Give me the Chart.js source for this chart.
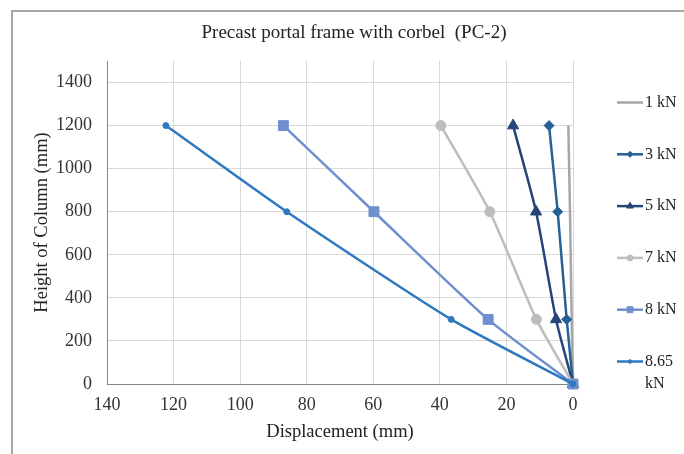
<!DOCTYPE html>
<html>
<head>
<meta charset="utf-8">
<script src="https://cdn.jsdelivr.net/npm/chart.js@4.4.1/dist/chart.umd.min.js"></script>
<style>
html,body{margin:0;padding:0;background:#fff;}
#wrap{position:relative;width:684px;height:454px;}
</style>
</head>
<body>
<div id="wrap"><canvas id="cnvDesplazamiento" width="684" height="454"></canvas></div>
<script>
// cargas aplicadas y lecturas (altura en mm, desplazamiento en mm)
var cargas = ["1 kN", "3 kN", "5 kN", "7 kN", "8 kN", "8.65 kN"];
var alturas = [0, 300, 800, 1200];
var d1kN = [0, 0.4, 0.9, 1.4];
var d3kN = [0, 1.9, 4.6, 7.2];
var d5kN = [0, 5.1, 11.1, 18];
var d7kN = [0, 11, 25, 39.7];
var d8kN = [0, 25.5, 59.8, 87];
var d865kN = [0, 36.6, 86, 122.3];
var ticksX = [0, 20, 40, 60, 80, 100, 120, 140];
var ticksY = [0, 200, 400, 600, 800, 1000, 1200, 1400];

var desplazamientos = [d1kN, d3kN, d5kN, d7kN, d8kN, d865kN];
var colores = ["#A6A6A6", "#266196", "#264478", "#BDBDBD", "#6F8FCF", "#2E78BF"];
var marcas = ["circle", "rectRot", "triangle", "circle", "rect", "circle"];
var radios = [0, 5, 6.5, 5, 7, 3];

var fuente = "'Liberation Serif', 'Times New Roman', serif";

function puntos(d){
	return d.map(function(v, i){ return {x: v, y: alturas[i]}; });
}

var datasets = cargas.map(function(nombre, i){
	return {
		label: nombre,
		data: puntos(desplazamientos[i]),
		showLine: true,
		borderColor: colores[i],
		backgroundColor: colores[i],
		borderWidth: 2.5,
		pointStyle: marcas[i],
		pointRadius: radios[i],
		pointBorderWidth: 1,
		pointHoverRadius: radios[i],
		tension: 0.2,
		clip: false,
		order: cargas.length - i
	};
});

var marco = {
	id: "marco",
	afterDraw: function(chart){
		var ctx = chart.ctx;
		ctx.save();
		ctx.strokeStyle = "#8C8C8C";
		ctx.lineWidth = 1.5;
		ctx.beginPath();
		ctx.moveTo(684, 11);
		ctx.lineTo(12, 11);
		ctx.lineTo(12, 454);
		ctx.stroke();

		ctx.fillStyle = "#222";
		ctx.font = "19px " + fuente;
		ctx.textAlign = "center";
		ctx.textBaseline = "middle";
		ctx.fillText("Precast portal frame with corbel  (PC-2)", 354, 33);
		ctx.restore();
	}
};

var leyenda = {
	id: "leyenda",
	afterDraw: function(chart){
		var ctx = chart.ctx;
		ctx.save();
		ctx.font = "16px " + fuente;
		ctx.textBaseline = "middle";
		ctx.textAlign = "left";
		chart.data.datasets.forEach(function(ds, i){
			var y = 102.5 + i * 51.8;
			ctx.strokeStyle = ds.borderColor;
			ctx.lineWidth = 2.5;
			ctx.beginPath();
			ctx.moveTo(617, y);
			ctx.lineTo(643, y);
			ctx.stroke();
			if (ds.pointRadius > 0 && Chart.helpers && Chart.helpers.drawPoint) {
				ctx.fillStyle = ds.backgroundColor;
				ctx.strokeStyle = ds.borderColor;
				ctx.lineWidth = 1;
				Chart.helpers.drawPoint(ctx, {pointStyle: ds.pointStyle, radius: ds.pointRadius * 0.6, rotation: 0, borderWidth: 1}, 630, y);
			}
			// partir la etiqueta si no cabe
			var palabras = ds.label.split(" ");
			var lineas = [];
			var actual = "";
			palabras.forEach(function(p){
				var prueba = actual ? actual + " " + p : p;
				if (actual && ctx.measureText(prueba).width > 38) {
					lineas.push(actual);
					actual = p;
				} else {
					actual = prueba;
				}
			});
			lineas.push(actual);
			ctx.fillStyle = "#222";
			lineas.forEach(function(t, k){
				ctx.fillText(t, 645, y + k * 22);
			});
		});
		ctx.restore();
	}
};

new Chart(document.getElementById("cnvDesplazamiento").getContext("2d"), {
	type: "scatter",
	data: {datasets: datasets},
	options: {
		responsive: false,
		animation: false,
		devicePixelRatio: 1,
		layout: {padding: {left: 0, right: 111, top: 61, bottom: 0}},
		plugins: {
			legend: {display: false},
			tooltip: {enabled: false},
			title: {display: false}
		},
		scales: {
			x: {
				type: "linear",
				reverse: true,
				min: 0,
				max: 140,
				afterBuildTicks: function(s){ s.ticks = ticksX.map(function(v){ return {value: v}; }); },
				afterFit: function(s){ s.height = 70; },
				ticks: {color: "#333", font: {family: fuente, size: 18}, padding: 10, maxRotation: 0,
					callback: function(v){ return String(v); }},
				grid: {color: "#D9D9D9", lineWidth: 1, drawTicks: false},
				border: {color: "#868686", width: 1},
				title: {display: true, text: "Displacement (mm)", color: "#222", font: {family: fuente, size: 18.5}, padding: {top: 0, bottom: 11}}
			},
			y: {
				type: "linear",
				min: 0,
				max: 1500,
				afterBuildTicks: function(s){ s.ticks = ticksY.map(function(v){ return {value: v}; }); },
				afterFit: function(s){ s.width = 107; },
				ticks: {color: "#333", font: {family: fuente, size: 18}, padding: 15,
					callback: function(v){ return String(v); }},
				grid: {color: "#D9D9D9", lineWidth: 1, drawTicks: false},
				border: {color: "#868686", width: 1},
				title: {display: true, text: "Height of Column (mm)", color: "#222", font: {family: fuente, size: 18.5}, padding: {top: 31, bottom: 0}}
			}
		}
	},
	plugins: [marco, leyenda]
});
</script>
</body>
</html>
